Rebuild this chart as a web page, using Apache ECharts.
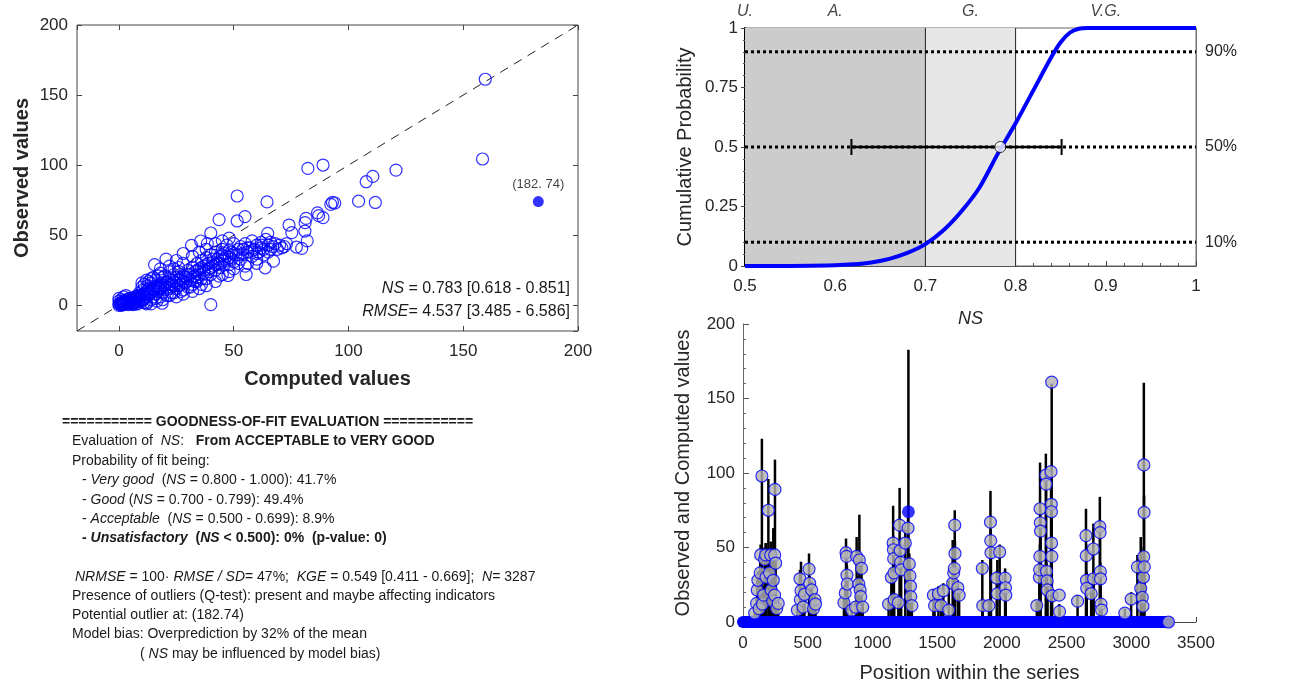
<!DOCTYPE html>
<html>
<head>
<meta charset="utf-8">
<script src="https://cdn.jsdelivr.net/npm/echarts@6/dist/echarts.min.js"></script>
<style>html,body{margin:0;background:#fff}#main{width:1289px;height:686px}</style>
</head>
<body>
<div id="main"></div>
<script>
(function () {
    'use strict';

    // ---- data ----
    var axisMin = -18.3;           // scatter axes start here (both x and y)
    var axisMax = 200;
    var sampleCount = 3287;

    // [computed, observed]
    var scatterPoints = [
        [0,0],[0.5,1],[1,0],[1,2],[1.5,1],[2,3],[2,0.5],[2.5,2],[3,1],[3,4],
        [3.5,2.5],[4,0.5],[4,3],[4.5,5],[5,2],[5,1],[5.5,3.5],[6,0.5],[6,5],[6.5,2],
        [7,3],[7,6],[7.5,1],[8,4],[8,7],[0,3],[1,4],[0,5],[2,6],[3,7],
        [1,1],[2,2],[3,3],[4,4],[5,5],[0,1],[1,0.5],[2,1],[3,2],[4,2],
        [5,3],[6,4],[7,5],[8,6],[9,7],[6,1],[7,2],[8,1],[9,3],[10,4],
        [8.5,2.5],[9,5.5],[9,9],[10,3],[10,7],[10.5,11],[11,4.5],[11,8.5],[12,2],[12,6],
        [12,10],[12.5,14],[13,7.5],[13,12],[14,4],[14,9],[14,16],[15,6],[15,11],[15.5,13.5],
        [16,8],[16,18],[16.5,3],[17,10],[17,14],[18,6],[18,12],[18.5,16],[19,9],[19,20],
        [11,6],[12,8],[13,9],[14,11],[15,12],[16,13],[17,12],[18,13],[19,14],[20,16],
        [10,13],[11,15],[13,17],[14,19],[17,21],[18,23],[20,21],[22,24],[24,26],[26,27],
        [11,2],[14,1],[16,5],[19,4],[22,7],[24,9],[27,10],[30,13],[32,15],[34,17],
        [20,11],[20,14],[20.5,33],[21,7],[21,17],[22,12],[22,19],[23,9],[23,15],[24,22],
        [24,17],[25,12],[25,20],[26,14],[26,24],[27,18],[28,11],[28,21],[28,37],[29,16],
        [21,13],[22,15],[23,18],[24,14],[25,16],[26,18],[27,20],[27,15],[28,17],[29,20],
        [30,25],[30,19],[15.5,29],[12,1],[18.8,1.5],[31,13],[31,22],[32,27],[31.6,42.8],[33,17],
        [30,22],[31,18],[32,20],[33,21],[34,25],[35,22],[36,27],[37,25],[38,29],[39,24],
        [33,24],[34,30],[34,20],[35,26],[35.6,45.9],[36,15],[36,32],[37,23],[37,28],[38,34],
        [38,19],[38.5,44],[39,26],[39,30],[40,22],[40,36],[40,51.6],[40,0.5],[41,28],[41,33],
        [40,27],[41,31],[42,29],[43,33],[44,30],[45,36],[46,33],[47,35],[48,39],[49,33],
        [42,25],[42,38],[43,30],[43.6,61.2],[43.6,20.8],[44,35],[44,27],[45,40],[45,32],[46,29],
        [46,37],[47,43],[47.5,21.3],[48,29],[48,34],[49,38],[50,31],[50,44],[51,36],[51.5,78],
        [50,37],[52,36],[54,40],[56,41],[58,39],[60,37],[62,43],[63,40],[65,38],[66,45],
        [51.5,60.2],[52,40],[53,33],[53,42],[54,37],[54.9,63.3],[55,44],[55.4,22],[56,38],[56,30],
        [57,41],[58,35],[58,46],[59,40],[60,43],[60,33],[61,38],[62,45],[62,41],[63,36],
        [67,42],[69,40],[71,41],[73,44],[36,19],
        [25,6],[28,8],[32,10],[35,12],[38,14],[42,17],[45,22],[50,26],[55,28],[60,30],
        [48,24],[52,30],[10,16],[12,18],[15,20],[18,26],[22,28],[25,32],[28,30],[32,35],
        [35,38],[38,40],[42,44],[45,46],[48,48],
        [63.7,26.8],[64,47],[64.5,73.8],[64.8,51.4],[65,43],[66,40],[67.3,31.5],[68,44],[70,43],[72,42],
        [74.1,57.3],[75.3,51.9],[77.3,41.6],[79.6,40.6],[81,53],[81.1,59],[81.5,62],[82,46],[82.3,97.7],[86.5,66],
        [87,64],[88.9,62.6],[88.9,100.1],[92.3,72],[93,73.5],[94,73],[104.4,74.3],[107.7,88.2],[110.6,92],[111.7,73.4],
        [120.7,96.5],[158.4,104.4],[159.6,161.3]
    ];
    var outlier = { comp: 182.7, obs: 74, pos: 1278, label: '(182. 74)' };

    // NS cumulative distribution
    var cdfNS   = [0.5, 0.55, 0.6, 0.62, 0.64, 0.66, 0.68, 0.7, 0.72, 0.74, 0.76, 0.78, 0.8, 0.82, 0.84, 0.85, 0.86, 0.87, 0.88, 1];
    var cdfProb = [0, 0.0005, 0.003, 0.007, 0.015, 0.03, 0.055, 0.092, 0.15, 0.23, 0.33, 0.47, 0.6, 0.74, 0.88, 0.94, 0.98, 0.997, 1, 1];
    var cdfLevels = [0.1, 0.5, 0.9];
    var cdfLevelLabels = ['10%', '50%', '90%'];
    var nsMedian = 0.783, nsLow = 0.618, nsHigh = 0.851;
    var ratingBounds = [0.5, 0.7, 0.8, 1];
    var ratingNames = ['U.', 'A.', 'G.', 'V.G.'];
    var ratingLabelAt = [0.5, 0.6, 0.75, 0.9];

    // [position, observed, computed]
    var seriesPoints = [
        [90,6,9],[105,12.5,16],[110,21.5,28],[115,28,34],[125,9,13],[133,33,40],[136,45,52],[146,98,123],[150,12,15],[160,18,24],
        [167,42,50],[175,45,53],[178,30,53],[196,75,96],[205,33,41],[214,45,54],[218,21.5,27],[230,14,20],[234,28,63],[244,18,24],
        [245,45,52],[247,89,109],[252,39.5,47],[260,9,12],[272,12.5,16],
        [420,8,11],[440,29,35],[443,15,19],[448,21,40.5],[465,10,14],[475,18.5,24],[510,35.5,46],[515,26,31],[531,21.5,27],[545,9,12],
        [556,15,19],[560,12,15],
        [780,13,17],[790,19.5,25],[796,46.5,56],[800,44,50],[803,31.5,38],[806,25.5,31],[840,8,12],[870,10,14],[878,44,57],[895,25.5,31],
        [899,41.6,72],[905,21.5,27],[910,17,22],[916,36,44],[925,10,13],
        [1125,12,15],[1146,30,36],[1160,53,78],[1162,48.5,58],[1164,42.5,50],[1166,33,40],[1168,15,19],[1200,13,18],[1210,65,90],[1214,48,56],
        [1218,40,47],[1222,35,42],[1254,53,62],[1275,63,70],[1285,39,46],[1290,31,38],[1294,24,30],[1296,17,22],[1305,11,14],
        [1471,18,22],[1480,11,14],[1510,19,24],[1530,11,15],[1548,21,26],[1590,8,28],[1620,26,55],[1628,33,40],[1633,36,44],[1636,65,75],
        [1638,46,54],[1660,23,28],[1670,18,22],
        [1849,36,41.6],[1852,11,14],[1900,11,15],[1912,67,88],[1914,54.6,62],[1916,46.5,54],[1960,29.5,34],[1965,19,41.6],[1983,47,52],[2025,29.5,36],
        [2028,23,28],[2030,18,22],
        [2270,11,14],[2290,30,36],[2292,35,40],[2294,44,52],[2295,76,107],[2297,66.6,75],[2299,61,68],[2340,98.6,113],[2342,92.5,100],[2345,34,40],
        [2350,27.6,33],[2352,21.5,26],[2380,100.9,89],[2382,79,88],[2383,74,82],[2384,53,60],[2386,44,50],[2385,161,160],[2388,17.6,22],[2443,18,12],
        [2446,7,9],
        [2585,14,18],[2650,58,76],[2652,44.5,52],[2654,28,34],[2656,22.6,27],[2690,19,24],[2707,49,66],[2709,29,34],[2757,64,84],[2759,60,68],
        [2761,33.8,40],[2763,29,34],[2766,12,15],[2770,8,10],
        [2950,6,9],[2999,15.4,20],[3047,37,45],[3073,22.6,57],[3085,16.5,20],[3090,10.6,14],[3094,30,36],[3096,43.8,50],[3097,105.4,160.6],[3099,73.6,85],
        [3101,37,44]
    ];

    var FF = "'Liberation Sans', Arial, Helvetica, sans-serif";
    var BLUE = '#0000ff';
    var TXT = '#1a1a1a';

    $ready();

    function $ready() {
        var myChart = echarts.init(document.getElementById('main'));

        function every(step) {
            return function (v) {
                var r = Math.abs(v / step - Math.round(v / step));
                return r < 1e-6 ? String(Math.round(v * 1000) / 1000) : '';
            };
        }
        function richSet(size) {
            return {
                i: { fontStyle: 'italic', fontSize: size, fontFamily: FF, fill: TXT },
                b: { fontWeight: 'bold', fontSize: size, fontFamily: FF, fill: TXT },
                bi: { fontStyle: 'italic', fontWeight: 'bold', fontSize: size, fontFamily: FF, fill: TXT }
            };
        }
        function line(x, y, text, size, opt) {
            var st = {
                text: text, fontSize: size, fontFamily: FF, fill: TXT,
                align: 'left', verticalAlign: 'middle', rich: richSet(size)
            };
            if (opt) { for (var k in opt) { st[k] = opt[k]; } }
            return { type: 'text', x: x, y: y, style: st, z: 50 };
        }

        var tickLabel = { fontSize: 17, color: '#262626', fontFamily: FF };

        var option = {
            animation: false,
            backgroundColor: '#fff',
            grid: [
                { left: 77, top: 25, width: 501, height: 306, show: true, borderColor: '#444', borderWidth: 1, backgroundColor: '#fff' },
                { left: 745, top: 28, width: 451, height: 238, show: true, borderColor: '#666', borderWidth: 1, backgroundColor: 'rgba(0,0,0,0)' },
                { left: 743, top: 324, width: 453, height: 298 }
            ],
            xAxis: [
                {
                    gridIndex: 0, type: 'value', min: axisMin, max: axisMax, splitNumber: 4,
                    axisLine: { show: false, onZero: false },
                    axisTick: { inside: true, length: 5, lineStyle: { color: '#444' } },
                    splitLine: { show: false },
                    axisLabel: Object.assign({ margin: 12, showMinLabel: false, formatter: every(50) }, tickLabel),
                    name: 'Computed values', nameLocation: 'middle', nameGap: 38,
                    nameTextStyle: { fontSize: 20, fontWeight: 'bold', color: '#262626', fontFamily: FF }
                },
                {
                    gridIndex: 1, type: 'value', min: 0.5, max: 1, interval: 0.1,
                    axisLine: { onZero: false, lineStyle: { color: '#555' } },
                    axisTick: { inside: true, length: 5, lineStyle: { color: '#444' } },
                    minorTick: { show: true, splitNumber: 5, length: 3, lineStyle: { color: '#555' } },
                    splitLine: { show: false },
                    axisLabel: { margin: 12, fontSize: 17, color: '#262626', fontFamily: FF },
                    name: 'NS', nameLocation: 'middle', nameGap: 44,
                    nameTextStyle: { fontSize: 18, fontStyle: 'italic', color: '#262626', fontFamily: FF }
                },
                {
                    gridIndex: 2, type: 'value', min: 0, max: 3500, interval: 500,
                    axisLine: { onZero: false, lineStyle: { color: '#444' } },
                    axisTick: { inside: true, length: 5, lineStyle: { color: '#444' } },
                    splitLine: { show: false },
                    axisLabel: Object.assign({ margin: 13, formatter: function (v) { return String(v); } }, tickLabel),
                    name: 'Position within the series', nameLocation: 'middle', nameGap: 41,
                    nameTextStyle: { fontSize: 20, color: '#262626', fontFamily: FF }
                },
                {
                    gridIndex: 0, type: 'value', position: 'top', min: axisMin, max: axisMax, splitNumber: 4,
                    axisLine: { show: false, onZero: false },
                    axisTick: { inside: true, length: 5, lineStyle: { color: '#444' } },
                    axisLabel: { show: false }, splitLine: { show: false }
                }
            ],
            yAxis: [
                {
                    gridIndex: 0, type: 'value', min: axisMin, max: axisMax, splitNumber: 4,
                    axisLine: { show: false, onZero: false },
                    axisTick: { inside: true, length: 5, lineStyle: { color: '#444' } },
                    splitLine: { show: false },
                    axisLabel: Object.assign({ margin: 9, showMinLabel: false, formatter: every(50) }, tickLabel),
                    name: 'Observed values', nameLocation: 'middle', nameGap: 45,
                    nameTextStyle: { fontSize: 20, fontWeight: 'bold', color: '#262626', fontFamily: FF }
                },
                {
                    gridIndex: 1, type: 'value', min: 0, max: 1, interval: 0.25,
                    axisLine: { onZero: false, lineStyle: { color: '#000', width: 2 } },
                    axisTick: { length: 4, lineStyle: { color: '#444' } },
                    minorTick: { show: true, splitNumber: 5, length: 2, lineStyle: { color: '#555' } },
                    splitLine: { show: false },
                    axisLabel: { margin: 7, fontSize: 17, color: '#262626', fontFamily: FF },
                    name: 'Cumulative Probability', nameLocation: 'middle', nameGap: 50,
                    nameTextStyle: { fontSize: 20, color: '#262626', fontFamily: FF }
                },
                {
                    gridIndex: 1, type: 'value', position: 'right', min: 0, max: 1, interval: 0.1,
                    axisLine: { onZero: false, lineStyle: { color: '#777' } },
                    axisTick: { show: false }, splitLine: { show: false },
                    axisLabel: {
                        margin: 9, fontSize: 16, color: '#262626', fontFamily: FF,
                        formatter: function (v) {
                            for (var i = 0; i < cdfLevels.length; i++) {
                                if (Math.abs(v - cdfLevels[i]) < 1e-6) { return cdfLevelLabels[i]; }
                            }
                            return '';
                        }
                    }
                },
                {
                    gridIndex: 2, type: 'value', min: 0, max: 200, interval: 50,
                    axisLine: { onZero: false, lineStyle: { color: '#666' } },
                    axisTick: { inside: true, length: 6, lineStyle: { color: '#555' } },
                    minorTick: { show: true, splitNumber: 5, length: 3, lineStyle: { color: '#666' } },
                    splitLine: { show: false },
                    axisLabel: Object.assign({ margin: 8 }, tickLabel),
                    name: 'Observed and Computed values', nameLocation: 'middle', nameGap: 50,
                    nameTextStyle: { fontSize: 20, color: '#262626', fontFamily: FF }
                },
                {
                    gridIndex: 0, type: 'value', position: 'right', min: axisMin, max: axisMax, splitNumber: 4,
                    axisLine: { show: false, onZero: false },
                    axisTick: { inside: true, length: 5, lineStyle: { color: '#444' } },
                    axisLabel: { show: false }, splitLine: { show: false }
                }
            ],
            series: [
                // ---- scatter: computed vs observed ----
                {
                    type: 'line', xAxisIndex: 0, yAxisIndex: 0, symbol: 'none', silent: true, z: 2,
                    data: [[axisMin, axisMin], [axisMax, axisMax]],
                    lineStyle: { color: '#222', width: 1, type: [9, 7] }
                },
                {
                    type: 'scatter', xAxisIndex: 0, yAxisIndex: 0, symbolSize: 12, z: 3,
                    data: scatterPoints,
                    itemStyle: { color: 'rgba(0,0,0,0)', borderColor: BLUE, borderWidth: 1.2 }
                },
                {
                    type: 'scatter', xAxisIndex: 0, yAxisIndex: 0, symbolSize: 11, z: 4,
                    data: [[outlier.comp, outlier.obs]],
                    itemStyle: { color: BLUE },
                    label: { show: true, position: 'top', distance: 5, formatter: outlier.label, fontSize: 13, color: '#111', fontFamily: FF }
                },

                // ---- NS cumulative probability ----
                {
                    type: 'line', xAxisIndex: 1, yAxisIndex: 1, symbol: 'none', silent: true, z: 1,
                    data: [[ratingBounds[1], 0], [ratingBounds[1], 1]],
                    lineStyle: { color: '#222', width: 1 },
                    markArea: {
                        silent: true,
                        data: [
                            [{ xAxis: ratingBounds[0], itemStyle: { color: '#cccccc' } }, { xAxis: ratingBounds[1] }],
                            [{ xAxis: ratingBounds[1], itemStyle: { color: '#e6e6e6' } }, { xAxis: ratingBounds[2] }]
                        ]
                    }
                },
                {
                    type: 'line', xAxisIndex: 1, yAxisIndex: 1, symbol: 'none', silent: true, z: 2,
                    data: [[ratingBounds[2], 0], [ratingBounds[2], 1]],
                    lineStyle: { color: '#222', width: 1 }
                }
            ].concat(cdfLevels.map(function (lv) {
                return {
                    type: 'line', xAxisIndex: 1, yAxisIndex: 1, symbol: 'none', silent: true, z: 3,
                    data: [[ratingBounds[0], lv], [ratingBounds[3], lv]],
                    lineStyle: { color: '#000', width: 3, type: [3, 3] }
                };
            })).concat([
                {
                    type: 'line', xAxisIndex: 1, yAxisIndex: 1, z: 4, clip: false,
                    data: [[nsLow, 0.5], [nsHigh, 0.5]],
                    symbol: 'rect', symbolSize: [2, 16], showSymbol: true,
                    itemStyle: { color: '#000' },
                    lineStyle: { color: '#000', width: 2.5 }
                },
                {
                    type: 'line', xAxisIndex: 1, yAxisIndex: 1, z: 5, clip: false, symbol: 'none', smooth: 0.3,
                    data: cdfNS.map(function (x, i) { return [x, cdfProb[i]]; }),
                    lineStyle: { color: BLUE, width: 4 }
                },
                {
                    type: 'scatter', xAxisIndex: 1, yAxisIndex: 1, z: 6, symbolSize: 11,
                    data: [[nsMedian, 0.5]],
                    itemStyle: { color: '#fff', borderColor: '#000', borderWidth: 1 }
                },
                {
                    type: 'scatter', xAxisIndex: 1, yAxisIndex: 1, z: 6, symbolSize: 0, clip: false,
                    data: ratingLabelAt.map(function (x, i) { return { value: [x, 1], name: ratingNames[i] }; }),
                    label: { show: true, position: 'top', distance: 8, formatter: '{b}', fontSize: 16, fontStyle: 'italic', color: '#111', fontFamily: FF }
                },

                // ---- values along the series ----
                {
                    type: 'custom', xAxisIndex: 2, yAxisIndex: 3, z: 2, clip: false,
                    data: seriesPoints.map(function (p) { return [p[0], p[2]]; }).concat([[outlier.pos, outlier.comp]]),
                    renderItem: function (params, api) {
                        var b = api.coord([api.value(0), 0]);
                        var t = api.coord([api.value(0), api.value(1)]);
                        return { type: 'line', shape: { x1: b[0], y1: b[1], x2: t[0], y2: t[1] }, style: { stroke: '#000', lineWidth: 2.5 } };
                    }
                },
                {
                    type: 'line', xAxisIndex: 2, yAxisIndex: 3, z: 3, clip: false, symbol: 'none',
                    data: [[0, 0], [sampleCount, 0]],
                    lineStyle: { color: BLUE, width: 12, cap: 'round' }
                },
                {
                    type: 'scatter', xAxisIndex: 2, yAxisIndex: 3, z: 4, clip: false, symbolSize: 12,
                    data: seriesPoints.map(function (p) { return [p[0], p[1]]; }).concat([[sampleCount, 0]]),
                    itemStyle: { color: '#b3b3b3', borderColor: BLUE, borderWidth: 1.2 }
                },
                {
                    type: 'scatter', xAxisIndex: 2, yAxisIndex: 3, z: 5, symbolSize: 13,
                    data: [[outlier.pos, outlier.obs]],
                    itemStyle: { color: BLUE }
                }
            ]),
            graphic: [
                line(570, 289, '{i|NS} = 0.783 [0.618 - 0.851]', 16, { align: 'right' }),
                line(570, 312, '{i|RMSE}= 4.537 [3.485 - 6.586]', 16, { align: 'right' }),

                line(62, 422, '=========== GOODNESS-OF-FIT EVALUATION ===========', 14, { fontWeight: 'bold' }),
                line(72, 441, 'Evaluation of  {i|NS}:   {b|From ACCEPTABLE to VERY GOOD}', 14),
                line(72, 461, 'Probability of fit being:', 14),
                line(82, 480, '- {i|Very good}  ({i|NS} = 0.800 - 1.000): 41.7%', 14),
                line(82, 500, '- {i|Good} ({i|NS} = 0.700 - 0.799): 49.4%', 14),
                line(82, 519, '- {i|Acceptable}  ({i|NS} = 0.500 - 0.699): 8.9%', 14),
                line(82, 538, '{b|- }{bi|Unsatisfactory}{b|  (}{bi|NS}{b| < 0.500): 0%  (p-value: 0)}', 14),
                line(75, 577, '{i|NRMSE} = 100· {i|RMSE / SD}= 47%;  {i|KGE} = 0.549 [0.411 - 0.669];  {i|N}= ' + sampleCount, 14),
                line(72, 596, 'Presence of outliers (Q-test): present and maybe affecting indicators', 14),
                line(72, 615, 'Potential outlier at: (182.74)', 14),
                line(72, 634, 'Model bias: Overprediction by 32% of the mean', 14),
                line(140, 654, '( {i|NS} may be influenced by model bias)', 14)
            ]
        };
        myChart.setOption(option, true);
    }
}());
</script>
</body>
</html>
